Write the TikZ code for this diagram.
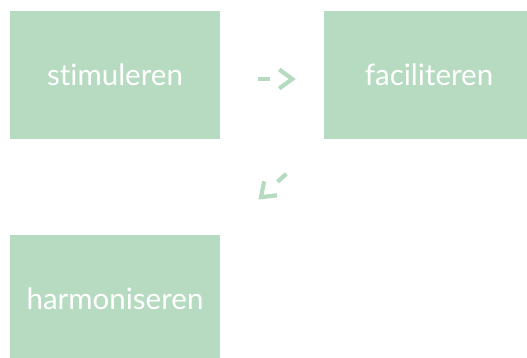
\documentclass[tikz,border=0pt]{standalone}
\usepackage{fontspec}
\setmainfont{Lato}[Ligatures=NoCommon]
\usetikzlibrary{arrows.meta}
\definecolor{boxgreen}{HTML}{B6DBC1}
\begin{document}
\begin{tikzpicture}[x=1pt,y=1pt,
  box/.style={fill=boxgreen, draw=none, minimum width=210pt, minimum height=128pt, inner sep=0pt, text=white, font=\fontsize{29.5}{33}\selectfont},
  link/.style={draw=boxgreen, line width=4.2pt, dash pattern=on 12pt off 200pt, -{Straight Barb[length=13pt,width=19pt,line width=4.2pt]}}]
\clip (0,0) rectangle (527,-358);
\useasboundingbox (0,0) rectangle (527,-358);
\node[box] (s) at (115,-75) {stimuleren};
\node[box] (f) at (429,-75) {faciliteren};
\node[box] (h) at (115,-299) {harmoniseren};
\draw[link, shorten <=38pt, shorten >=28pt] ([yshift=-4pt]s.east) -- ([yshift=-4pt]f.west);
\draw[link, shorten <=51pt, shorten >=52pt] (f.south west) -- (h.north east);
\end{tikzpicture}
\end{document}
